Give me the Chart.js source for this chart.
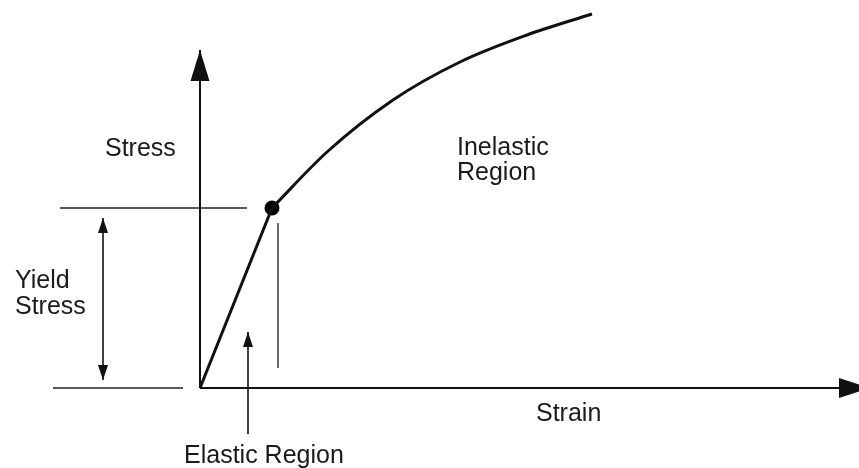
<!DOCTYPE html>
<html>
<head>
<meta charset="utf-8">
<script src="https://cdn.jsdelivr.net/npm/chart.js@4"></script>
<style>
  html, body { margin: 0; padding: 0; background: #fff; }
  #wrap { width: 859px; height: 468px; position: relative; }
</style>
</head>
<body>
<div id="wrap"><canvas id="c"></canvas></div>
<script>
// ---- Data (strain / stress in arbitrary schematic units) ----
const elasticStrain = [0, 0.72];
const elasticStress = [0, 1.80];
const inelasticStrain = [0.72, 1.27, 1.93, 2.60, 3.27, 3.92];
const inelasticStress = [1.80, 2.36, 2.88, 3.26, 3.53, 3.74];
const yieldPoint = { strain: 0.72, stress: 1.80 };

// axes (arrows)
const xAxisStrain = [0, 6.70];
const yAxisStress = [0, 3.38];

// guide lines
const yieldLineStrain = [-1.40, 0.47];
const baseLineStrain = [-1.47, -0.17];
const yieldSpanStress = [0.08, 1.70];   // double arrow
const yieldSpanStrain = -0.97;
const markerStrain = 0.78;
const markerStress = [0.20, 1.65];
const elasticArrowStrain = 0.48;
const elasticArrowStress = [-0.46, 0.56];

// labels
const labelTexts = ["Stress", "Inelastic", "Region", "Yield", "Stress", "Elastic Region", "Strain"];
const labelStrain = [-0.95, 2.57, 2.57, -1.85, -1.85, -0.16, 3.36];
const labelStress = [2.32, 2.33, 2.08, 1.00, 0.74, -0.75, -0.33];

const pts = (xs, ys) => xs.map((x, i) => ({ x, y: ys[i] }));

function lineDs(data, width, color, arrow) {
  return {
    type: 'scatter', data, showLine: true, borderColor: color, borderWidth: width,
    pointRadius: 0, pointHoverRadius: 0, fill: false, tension: 0, arrow: arrow || null, clip: false
  };
}

const datasets = [
  lineDs(pts(xAxisStrain, [0, 0]), 2, '#111', { end: true, len: 31, w: 20 }),
  lineDs(pts([0, 0], yAxisStress), 2, '#111', { end: true, len: 31, w: 19 }),
  lineDs(pts(yieldLineStrain, [yieldPoint.stress, yieldPoint.stress]), 1.6, '#222'),
  lineDs(pts(baseLineStrain, [0, 0]), 1.6, '#222'),
  lineDs(pts([yieldSpanStrain, yieldSpanStrain], yieldSpanStress), 1.6, '#111', { end: true, start: true, len: 15, w: 10 }),
  lineDs(pts([markerStrain, markerStrain], markerStress), 1.6, '#444'),
  lineDs(pts([elasticArrowStrain, elasticArrowStrain], elasticArrowStress), 1.6, '#111', { end: true, len: 15, w: 10 }),
  lineDs(pts(elasticStrain, elasticStress), 3, '#111'),
  Object.assign(lineDs(pts(inelasticStrain, inelasticStress), 3, '#111'), { cubicInterpolationMode: 'monotone' }),
  {
    type: 'scatter', data: [{ x: yieldPoint.strain, y: yieldPoint.stress }],
    pointRadius: 7.5, pointBackgroundColor: '#000', pointBorderColor: '#000', pointBorderWidth: 0, showLine: false, clip: false
  }
];

const arrowPlugin = {
  id: 'arrows',
  afterDatasetsDraw(chart) {
    const ctx = chart.ctx;
    chart.data.datasets.forEach((ds, i) => {
      if (!ds.arrow) return;
      const el = chart.getDatasetMeta(i).data;
      const n = el.length;
      const draw = (tip, from) => {
        const ang = Math.atan2(tip.y - from.y, tip.x - from.x);
        const L = ds.arrow.len, W = ds.arrow.w / 2;
        ctx.save();
        ctx.translate(tip.x, tip.y);
        ctx.rotate(ang);
        ctx.beginPath();
        ctx.moveTo(0, 0);
        ctx.lineTo(-L, -W);
        ctx.lineTo(-L, W);
        ctx.closePath();
        ctx.fillStyle = ds.borderColor;
        ctx.fill();
        ctx.restore();
      };
      if (ds.arrow.end) draw(el[n - 1], el[n - 2]);
      if (ds.arrow.start) draw(el[0], el[1]);
    });
  }
};

const textPlugin = {
  id: 'texts',
  afterDraw(chart) {
    const ctx = chart.ctx, xs = chart.scales.x, ys = chart.scales.y;
    ctx.save();
    ctx.font = '25px "Liberation Sans", Arial, Helvetica, sans-serif';
    ctx.fillStyle = '#1a1a1a';
    ctx.textAlign = 'left';
    ctx.textBaseline = 'alphabetic';
    labelTexts.forEach((t, i) => {
      ctx.fillText(t, xs.getPixelForValue(labelStrain[i]), ys.getPixelForValue(labelStress[i]));
    });
    ctx.restore();
  }
};

new Chart(document.getElementById('c'), {
  type: 'scatter',
  data: { datasets },
  options: {
    responsive: true,
    maintainAspectRatio: false,
    animation: false,
    events: [],
    layout: { padding: 0, autoPadding: false },
    plugins: { legend: { display: false }, tooltip: { enabled: false } },
    scales: {
      x: { type: 'linear', min: -2.00, max: 6.59, display: false },
      y: { type: 'linear', min: -0.80, max: 3.88, display: false }
    }
  },
  plugins: [arrowPlugin, textPlugin]
});
</script>
</body>
</html>
